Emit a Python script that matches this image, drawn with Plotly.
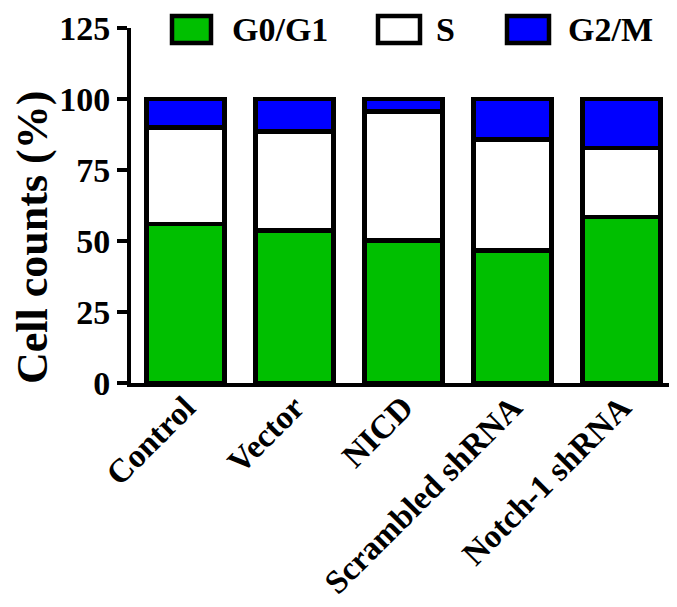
import plotly.graph_objects as go

categories = ["Control", "Vector", "NICD", "Scrambled shRNA", "Notch-1 shRNA"]
g0g1 = [56.0, 53.7, 50.2, 46.7, 58.4]
s_phase = [34.0, 34.8, 45.4, 39.0, 24.3]
g2m = [10.0, 11.5, 4.4, 14.3, 17.3]
series_names = ["G0/G1", "S", "G2/M"]
series_colors = ["#00BF00", "#FFFFFF", "#0000FF"]
y_ticks = [0, 25, 50, 75, 100, 125]
y_title = "Cell counts (%)"

W, H = 677, 607
L, R, T, B = 123, 9, 20, 232
PW, PH = W - L - R, H - T - B
FONT = "Liberation Serif"


def px_x(p):
    return (p - L) / PW


def px_y(p):
    return (H - B - p) / PH


fig = go.Figure()
for name, vals, col in zip(series_names, [g0g1, s_phase, g2m], series_colors):
    fig.add_trace(go.Bar(
        x=categories, y=vals, name=name,
        marker=dict(color=col, line=dict(color="black", width=4.5)),
        width=0.72, showlegend=False,
    ))

# legend drawn as boxes + labels
legend_boxes = [(164, 203), (370, 412), (499, 541)]
legend_text_x = [222, 426, 558]
for (x0, x1), tx, name, col in zip(legend_boxes, legend_text_x, series_names, series_colors):
    fig.add_shape(type="rect", xref="paper", yref="paper",
                  x0=px_x(x0), x1=px_x(x1), y0=px_y(35), y1=px_y(8),
                  fillcolor=col, line=dict(color="black", width=4.5))
    fig.add_annotation(xref="paper", yref="paper", x=px_x(tx), y=px_y(21.5),
                       xanchor="left", yanchor="middle", showarrow=False,
                       text=name, font=dict(family=FONT, size=34, color="black", weight="bold"))

fig.add_annotation(xref="paper", yref="paper", x=px_x(24), y=px_y(230),
                   xanchor="center", yanchor="middle", showarrow=False, textangle=-90,
                   text=y_title, font=dict(family=FONT, size=44, color="black", weight="bold"))

fig.update_layout(
    barmode="stack", bargap=0.28,
    width=W, height=H,
    margin=dict(l=L, r=R, t=T, b=B, pad=0, autoexpand=False),
    plot_bgcolor="white", paper_bgcolor="white",
    font=dict(family=FONT, color="black"),
)
fig.update_yaxes(
    automargin=False, ticklabeloverflow="allow",
    range=[0, 125], tickvals=y_ticks, ticktext=[str(v) for v in y_ticks],
    showgrid=False, zeroline=False, showline=True, linecolor="black", linewidth=4,
    ticks="outside", ticklen=10, tickwidth=4, tickcolor="black",
    tickfont=dict(family=FONT, size=34, color="black", weight="bold"),
)
fig.update_xaxes(
    automargin=False, ticklabeloverflow="allow",
    range=[-0.5, 4.5], showgrid=False, zeroline=False, showline=True,
    linecolor="black", linewidth=4, ticks="", tickangle=-45,
    ticklabelstandoff=-12,
    tickfont=dict(family=FONT, size=33, color="black", weight="bold"),
)

fig.write_html("out.html")
